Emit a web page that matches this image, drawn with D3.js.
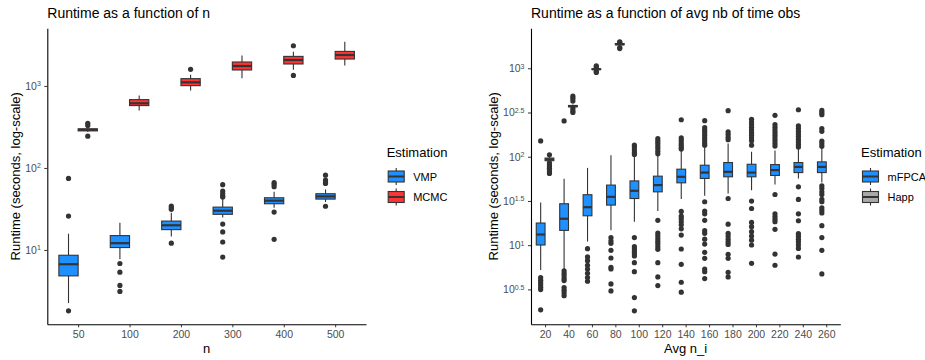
<!DOCTYPE html>
<html><head><meta charset="utf-8">
<script src="https://cdn.jsdelivr.net/npm/d3@7"></script>
<style>
body{margin:0;background:#fff}
text{font-family:"Liberation Sans",Arial,Helvetica,sans-serif}
</style>
</head><body>
<svg id="chart" width="925" height="360"></svg>
<script>
// ---------------- DATA (seconds) ----------------
// Left panel: runtime vs n
const nCategories = ["50","100","200","300","400","500"];
const leftSeries = ["VMP","MCMC"];
const vmpLow  = [2.25, 7.7, 14.6, 24.8, 32.8, 38.4];
const vmpQ1   = [4.83, 10.7, 17.7, 27.2, 36.6, 41.7];
const vmpMed  = [6.7, 12.1, 20.0, 30.1, 39.9, 45.0];
const vmpQ3   = [8.62, 14.96, 22.5, 33.3, 43.3, 48.5];
const vmpHigh = [15.8, 21.5, 28.5, 41.4, 51.3, 54.7];
const vmpOut  = [[74.5,25.9,1.81],[6.84,5.36,3.69,3.12],[34.3,32.8,31.3,12.1],
                 [62.5,52.2,48.6,45.4,44.1,20.7,16.6,12.5,8.2],[66.1,63,59,29,13.5],[81.7,71.1,67.9,64.7,34.1]];
const mcmcLow  = [275, 501, 877, 1237, 1578, 1781];
const mcmcQ1   = [283, 576, 1008, 1565, 1852, 2128];
const mcmcMed  = [292, 614, 1106, 1750, 2070, 2382];
const mcmcQ3   = [300, 681, 1227, 1958, 2292, 2637];
const mcmcHigh = [308, 762, 1372, 2355, 2610, 3457];
const mcmcOut  = [[351,329,244],[],[1592],[],[3090,1344],[]];
const leftYTickExps = ["1","2","3"];

// Right panel: runtime vs avg number of time obs
const avgCategories = ["20","40","60","80","100","120","140","160","180","200","220","240","260"];
const rightSeries = ["mFPCA","Happ"];
const mfpcaLow  = [5.25, 5.30, 11.0, 14.8, 18.4, 24.3, 33.2, 36.1, 38.5, 41.9, 48.5, 56.8, 51.2];
const mfpcaQ1   = [10.05, 14.7, 21.5, 28.4, 33.7, 40.1, 50.7, 56.8, 59.3, 59.3, 61.4, 66.2, 66.2];
const mfpcaMed  = [13.2, 19.9, 26.9, 35.2, 41.2, 47.8, 59.3, 66.2, 67.5, 66.2, 70.5, 76.7, 76.7];
const mfpcaQ3   = [17.8, 29.4, 37.2, 47.8, 53.3, 60.3, 72.3, 80.2, 85.9, 82.2, 81.5, 85.9, 87.5];
const mfpcaHigh = [30.4, 56.2, 74.8, 104, 99.5, 104, 118, 131, 141, 114, 118, 124, 124];
const mfpcaOut  = [
  [151, 4.31, 4.02, 3.78, 3.56, 3.34, 3.15, 1.86],
  [254, 5.12, 4.78, 4.49, 4.19, 3.98, 3.32, 3.10, 2.89, 2.69],
  [9.12, 7.36, 6.68, 5.93, 5.38, 4.81, 4.30, 3.91],
  [12.2, 11.2, 10.5, 8.75, 7.16, 5.62, 5.38, 3.65, 3.04],
  [135, 127, 119, 112, 106, 12.2, 9.62, 9.06, 8.51, 8.02, 7.55, 6.35, 5.02, 2.56, 1.81],
  [160, 150, 141, 132, 124, 115, 108, 19.1, 13.7, 12.8, 11.9, 11.1, 10.4, 9.62, 8.97, 6.35, 4.38, 3.49],
  [262, 163, 153, 143, 135, 127, 122, 24.1, 21.3, 19.9, 18.4, 17.0, 15.3, 13.0, 9.06, 6.08, 3.81, 2.94],
  [256, 213, 199, 187, 175, 163, 153, 143, 135, 31.0, 24.3, 22.6, 19.1, 14.6, 13.6, 11.7, 10.3, 8.30, 7.11, 5.38, 5.02, 4.19],
  [332, 191, 178, 166, 156, 33.7, 17.3, 13.6, 12.7, 11.7, 10.9, 10.2, 7.89, 7.11, 4.94, 4.38],
  [265, 247, 231, 215, 201, 187, 175, 163, 152, 135, 31.5, 26.0, 18.1, 16.2, 14.2, 12.7, 11.4, 10.05, 6.24],
  [294, 231, 215, 201, 187, 175, 163, 152, 141, 132, 37.4, 22.6, 21.1, 19.7, 18.4, 15.1, 7.94, 5.93],
  [340, 223, 208, 194, 181, 169, 157, 147, 137, 129, 45.7, 32.9, 22.6, 18.9, 13.5, 12.6, 11.7, 10.9, 10.05, 9.20, 7.35],
  [334, 315, 299, 208, 194, 150, 140, 131, 46.9, 43.8, 40.1, 37.4, 32.9, 31.0, 26.5, 24.7, 23.1, 16.6, 12.2, 8.75, 4.73]
];
const happCategories = ["20","40","60","80"];
const happLow  = [88.1, 359, 955, 1800];
const happQ1   = [90.2, 367, 966, 1841];
const happMed  = [93.3, 373, 977, 1871];
const happQ3   = [96.6, 380, 989, 1905];
const happHigh = [99.5, 389, 1000, 1940];
const happOut  = [[105, 85.1, 81.3, 77.6, 74.1, 70.8, 67.6, 64.6],
                  [484, 456, 426, 352, 330, 317],
                  [1064, 1035, 923, 897],
                  [1995, 1960, 1718, 1671]];
const rightYTickExps = ["0.5","1","1.5","2","2.5","3"];

// ---------------- BUILD ----------------
function groups(cats, low, q1, med, q3, high, out) {
  return cats.map((c, i) => ({cat: c, low: low[i], q1: q1[i], med: med[i], q3: q3[i], high: high[i], out: out[i]}));
}
const leftData = [
  {name: "VMP",  color: "#1E90FF", groups: groups(nCategories, vmpLow, vmpQ1, vmpMed, vmpQ3, vmpHigh, vmpOut)},
  {name: "MCMC", color: "#FF3333", groups: groups(nCategories, mcmcLow, mcmcQ1, mcmcMed, mcmcQ3, mcmcHigh, mcmcOut)}
];
const rightData = [
  {name: "mFPCA", color: "#1E90FF", groups: groups(avgCategories, mfpcaLow, mfpcaQ1, mfpcaMed, mfpcaQ3, mfpcaHigh, mfpcaOut)},
  {name: "Happ",  color: "#A9A9A9", groups: groups(happCategories, happLow, happQ1, happMed, happQ3, happHigh, happOut)}
];

const svg = d3.select("#chart");
const INK = "#333333";

function drawPanel(opt) {
  const g = svg.append("g");
  const x = d3.scalePoint().domain(opt.categories).range([opt.x0, opt.x1]).padding(0.6);
  const step = x.step();
  const dodge = d3.scaleBand().domain(opt.series).range([-0.375 * step, 0.375 * step]);
  // y domain: data extent expanded by 5% in log space
  const all = [];
  opt.data.forEach(s => s.groups.forEach(d => { all.push(d.low, d.high, ...d.out); }));
  const lo = Math.log10(d3.min(all)), hi = Math.log10(d3.max(all));
  const pad = (hi - lo) * 0.05;
  const y = d3.scaleLog().domain([Math.pow(10, lo - pad), Math.pow(10, hi + pad)]).range([opt.y1, opt.y0]);

  const bw = dodge.bandwidth();
  opt.data.forEach(s => {
    s.groups.forEach(d => {
      const cx = x(d.cat) + dodge(s.name) + bw / 2;
      const gg = g.append("g");
      gg.selectAll("circle").data(d.out).join("circle")
        .attr("cx", cx).attr("cy", v => y(v)).attr("r", 2.6).attr("fill", INK);
      gg.append("line").attr("x1", cx).attr("x2", cx).attr("y1", y(d.high)).attr("y2", y(d.q3))
        .attr("stroke", INK).attr("stroke-width", 1.1);
      gg.append("line").attr("x1", cx).attr("x2", cx).attr("y1", y(d.q1)).attr("y2", y(d.low))
        .attr("stroke", INK).attr("stroke-width", 1.1);
      gg.append("rect").attr("x", cx - bw / 2).attr("width", bw)
        .attr("y", y(d.q3)).attr("height", Math.max(0.5, y(d.q1) - y(d.q3)))
        .attr("fill", s.color).attr("stroke", INK).attr("stroke-width", 1.1);
      gg.append("line").attr("x1", cx - bw / 2).attr("x2", cx + bw / 2).attr("y1", y(d.med)).attr("y2", y(d.med))
        .attr("stroke", INK).attr("stroke-width", 2.2);
    });
  });

  // axes
  const xa = g.append("g").attr("transform", `translate(0,${opt.y1})`)
    .call(d3.axisBottom(x).tickSize(3).tickSizeOuter(0).tickPadding(3.5));
  const tickVals = opt.yExps.map(e => Math.pow(10, +e));
  const ya = g.append("g").attr("transform", `translate(${opt.x0},0)`)
    .call(d3.axisLeft(y).tickValues(tickVals).tickSize(3).tickSizeOuter(0).tickPadding(3.5));
  [xa, ya].forEach(a => {
    a.select(".domain").attr("stroke", "#000").attr("stroke-width", 1.1);
    a.selectAll(".tick line").attr("stroke", INK).attr("stroke-width", 1);
    a.selectAll(".tick text").attr("fill", "#4D4D4D").attr("font-size", "10.5px")
      .attr("font-family", '"Liberation Sans",Arial,sans-serif');
  });
  ya.selectAll(".tick text").each(function(d, i) {
    const t = d3.select(this);
    t.text(null);
    t.append("tspan").text("10");
    t.append("tspan").attr("dy", "-0.5em").attr("font-size", "7px").text(opt.yExps[i]);
  });

  // titles
  svg.append("text").attr("x", opt.x0).attr("y", 17.5).attr("font-size", "14px").attr("fill", "#000").text(opt.title);
  svg.append("text").attr("x", (opt.x0 + opt.x1) / 2).attr("y", 353).attr("text-anchor", "middle")
    .attr("font-size", "13px").attr("fill", "#000").text(opt.xTitle);
  svg.append("text").attr("transform", `translate(${opt.yTitleX},${(opt.y0 + opt.y1) / 2}) rotate(-90)`)
    .attr("text-anchor", "middle").attr("font-size", "13px").attr("fill", "#000").text(opt.yTitle);

  // legend
  const lg = svg.append("g").attr("transform", `translate(${opt.legendX},0)`);
  lg.append("text").attr("x", 0).attr("y", 157).attr("font-size", "13px").attr("fill", "#000").text("Estimation");
  opt.data.forEach((s, i) => {
    const cy = 176.5 + i * 20.5;
    lg.append("line").attr("x1", 9.5).attr("x2", 9.5).attr("y1", cy - 8.5).attr("y2", cy + 8.5)
      .attr("stroke", INK).attr("stroke-width", 1.1);
    lg.append("rect").attr("x", 1.5).attr("y", cy - 5.5).attr("width", 16).attr("height", 11)
      .attr("fill", s.color).attr("stroke", INK).attr("stroke-width", 1.1);
    lg.append("line").attr("x1", 1.5).attr("x2", 17.5).attr("y1", cy).attr("y2", cy)
      .attr("stroke", INK).attr("stroke-width", 2);
    lg.append("text").attr("x", 26.5).attr("y", cy + 4).attr("font-size", "11px").attr("fill", "#000").text(s.name);
  });
}

drawPanel({
  categories: nCategories, series: leftSeries, data: leftData,
  x0: 47.3, x1: 366, y0: 28.3, y1: 324.3, yExps: leftYTickExps,
  title: "Runtime as a function of n", xTitle: "n", yTitle: "Runtime (seconds, log-scale)",
  yTitleX: 19.5, legendX: 386.7
});
drawPanel({
  categories: avgCategories, series: rightSeries, data: rightData,
  x0: 531, x1: 840.3, y0: 28.3, y1: 324.3, yExps: rightYTickExps,
  title: "Runtime as a function of avg nb of time obs", xTitle: "Avg n_i", yTitle: "Runtime (seconds, log-scale)",
  yTitleX: 497.5, legendX: 861
});
</script>
</body></html>
